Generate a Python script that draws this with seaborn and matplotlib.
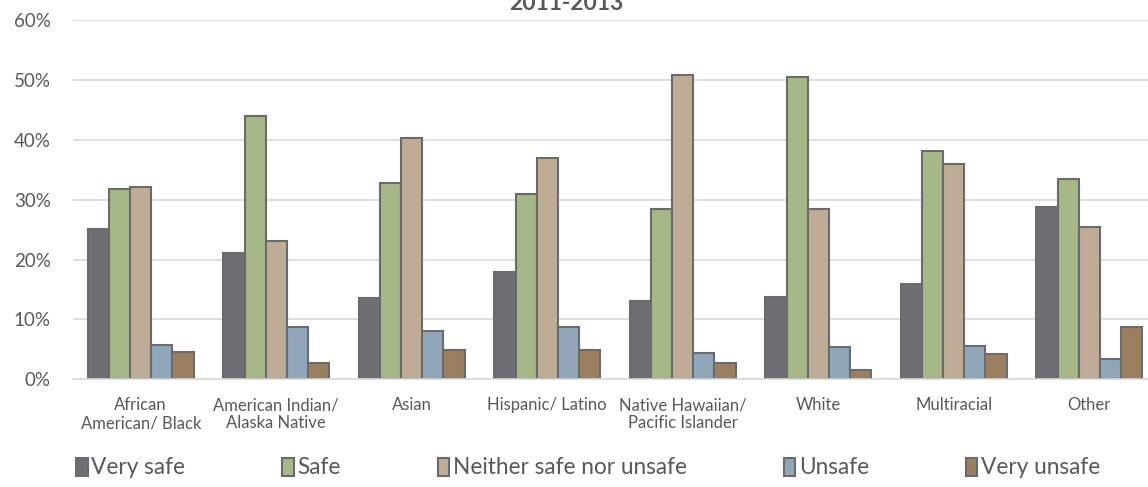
import matplotlib
matplotlib.use("Agg")
import matplotlib.pyplot as plt
import seaborn as sns
import pandas as pd
from matplotlib.ticker import PercentFormatter

# Groups on the x axis
groups = [
    "African\nAmerican/ Black",
    "American Indian/\nAlaska Native",
    "Asian",
    "Hispanic/ Latino",
    "Native Hawaiian/\nPacific Islander",
    "White",
    "Multiracial",
    "Other",
]

# Share of respondents (%) per response level
very_safe = [25.1, 21.1, 13.6, 18.0, 13.1, 13.8, 15.9, 28.7]
safe = [31.8, 43.9, 32.8, 30.9, 28.5, 50.5, 38.1, 33.4]
neither = [32.1, 23.1, 40.3, 37.0, 50.8, 28.4, 35.9, 25.4]
unsafe = [5.8, 8.8, 8.1, 8.7, 4.4, 5.4, 5.6, 3.4]
very_unsafe = [4.6, 2.8, 4.9, 4.9, 2.8, 1.6, 4.2, 8.7]

levels = ["Very safe", "Safe", "Neither safe nor unsafe", "Unsafe", "Very unsafe"]
series = [very_safe, safe, neither, unsafe, very_unsafe]
colors = ["#6F6E73", "#A6B788", "#BEAC96", "#8FA7B9", "#9A8060"]

rows = []
for lvl, vals in zip(levels, series):
    for g, v in zip(groups, vals):
        rows.append({"group": g, "level": lvl, "pct": v})
df = pd.DataFrame(rows)

sns.set_style("white")
plt.rcParams["font.family"] = ["Lato", "DejaVu Sans"]

fig = plt.figure(figsize=(11.48, 4.87), dpi=100)
ax = fig.add_axes([73 / 1148, 1 - 379.3 / 487, 1084 / 1148, (379.3 - 20) / 487])

sns.barplot(
    data=df, x="group", y="pct", hue="level", order=groups, hue_order=levels,
    palette=colors, width=0.78, edgecolor="#6B6B6B", linewidth=1.5,
    saturation=1, ax=ax, legend=True,
)

ax.set_xlim(-0.5, 7.5)
ax.set_ylim(0, 60)
ax.set_yticks(range(0, 61, 10))
ax.yaxis.set_major_formatter(PercentFormatter(decimals=0))
ax.grid(axis="y", color="#D9D9D9", linewidth=1.2)
ax.set_axisbelow(True)
for side in ["top", "right", "left"]:
    ax.spines[side].set_visible(False)
ax.spines["bottom"].set_color("#D9D9D9")
ax.spines["bottom"].set_linewidth(1.2)
ax.tick_params(axis="both", length=0, colors="#595959")
ax.tick_params(axis="y", labelsize=13.5, pad=16)
ax.tick_params(axis="x", labelsize=12, pad=13)
for lbl in ax.get_xticklabels():
    lbl.set_linespacing(1.15)
ax.set_xlabel("")
ax.set_ylabel("")

handles, labels = ax.get_legend_handles_labels()
ax.get_legend().remove()
fig.legend(
    handles, labels, loc="center left", bbox_to_anchor=(56 / 1148, 1 - 468 / 487),
    ncol=5, frameon=False, fontsize=16.3, handlelength=0.5, handleheight=0.85,
    handletextpad=0.15, columnspacing=4.3, labelcolor="#595959",
)

fig.text(566 / 1148, 1 - 10.5 / 487, "2011-2013", ha="center", va="baseline",
         fontsize=16.5, fontweight="bold", color="#595959")

fig.savefig("out.png", dpi=100)
